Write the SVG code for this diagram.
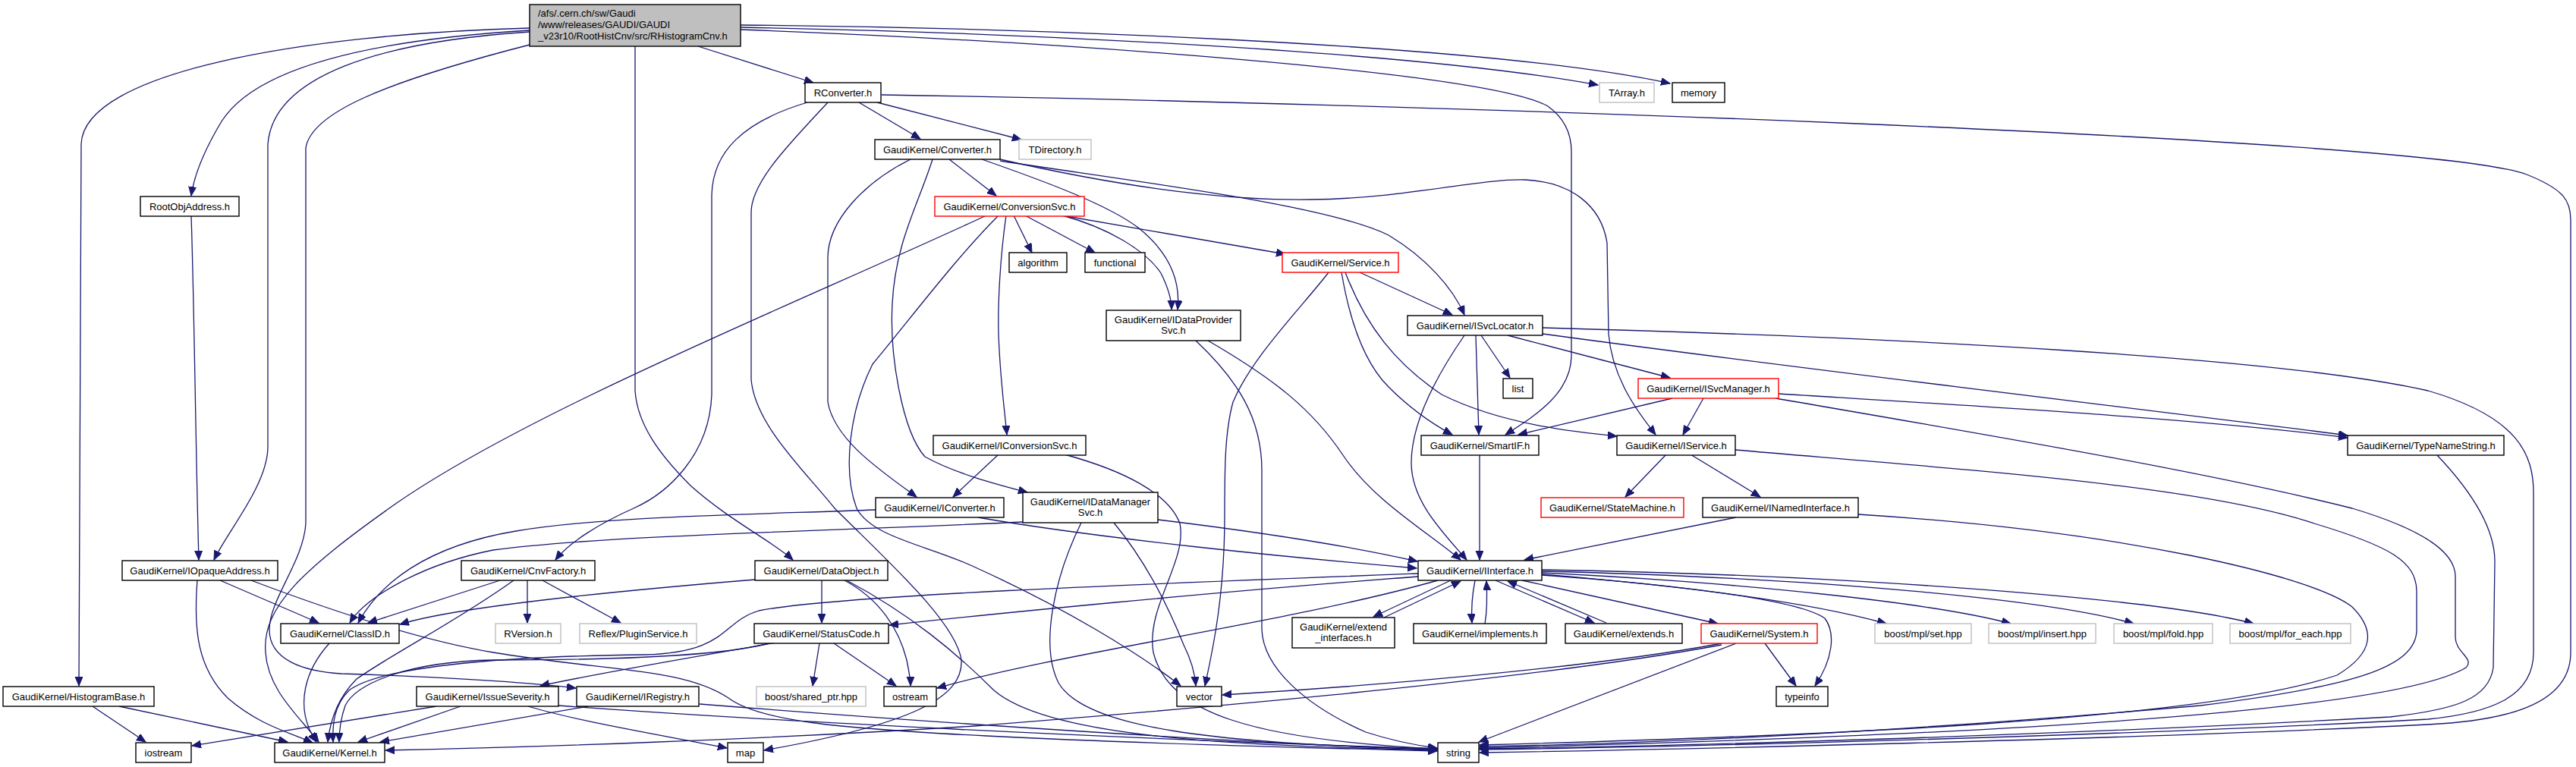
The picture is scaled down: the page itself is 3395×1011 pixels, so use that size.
<svg xmlns="http://www.w3.org/2000/svg" width="3395" height="1011" viewBox="0 0 3395 1011">
<style>
.node rect{fill:#fff;stroke:#000;stroke-width:1.4}
.red rect{stroke:#ff0000}
.gray rect{stroke:#bfbfbf}
.root rect{fill:#bfbfbf}
text{font-family:"Liberation Sans",Arial,sans-serif;font-size:13px;fill:#000;text-anchor:middle}
.root text{text-anchor:start}
#edges path{fill:none;stroke:#191970;stroke-width:1.3;marker-end:url(#arr)}
</style>
<defs>
<marker id="arr" markerWidth="14" markerHeight="11" refX="12" refY="5" orient="auto" markerUnits="userSpaceOnUse">
<path d="M0,0 L12,5 L0,10 z" fill="#191970" stroke="#191970" stroke-width="1"/>
</marker>
</defs>
<rect width="3395" height="1011" fill="#fff"/>
<g id="edges">
<path d="M920,61 L1072,109"/>
<path d="M976,36 C1300,42 1850,65 2106,112"/>
<path d="M976,33 C1300,36 1950,55 2201,110"/>
<path d="M976,39 C1400,55 1960,95 2040,140 C2068,160 2071,185 2071,200 L2071,470 C2070,520 2020,550 1984,573"/>
<path d="M698,37 C400,45 110,95 107,190 L104,904"/>
<path d="M698,40 C450,55 330,100 292,160 C268,200 256,230 252,258"/>
<path d="M698,42 C500,55 360,100 353,190 L353,590 C352,640 300,700 282,738"/>
<path d="M698,59 C500,110 410,150 403,195 L403,690 C400,740 355,790 355,830 C355,870 400,885 450,888 C600,893 700,900 759,907"/>
<path d="M837,61 L837,515 C840,560 870,600 910,640 C960,685 1020,715 1045,738"/>
<path d="M1132,135 L1213,183"/>
<path d="M1156,135 L1346,184"/>
<path d="M1162,125 C1800,135 3200,180 3330,230 C3380,250 3388,265 3388,290 L3388,860 C3388,930 3300,950 3200,955 C2800,975 2200,988 1950,992"/>
<path d="M1064,135 C980,160 938,200 938,260 L938,520 C935,600 880,650 835,670 C790,690 750,715 732,738"/>
<path d="M1091,135 C1040,190 990,240 990,280 L990,500 C995,560 1060,620 1100,670 C1170,740 1260,820 1267,870 C1270,920 1200,955 1007,989"/>
<path d="M1200,210 C1140,240 1091,290 1091,340 L1091,530 C1100,580 1160,620 1208,655"/>
<path d="M1229,210 C1210,270 1180,320 1176,400 C1172,470 1190,570 1219,602 C1260,625 1320,640 1354,649"/>
<path d="M1251,210 L1313,258"/>
<path d="M1294,210 C1380,240 1460,270 1500,300 C1550,340 1555,380 1552,408"/>
<path d="M1318,212 C1500,240 1750,270 1830,310 C1880,340 1915,380 1930,415"/>
<path d="M1318,210 C1450,240 1600,265 1727,263 C1850,262 1950,235 2010,237 C2070,240 2110,270 2118,320 L2120,440 C2125,500 2160,545 2182,573"/>
<path d="M1300,284 C1050,400 700,540 520,665 C400,750 345,800 350,860 C353,910 395,945 420,978"/>
<path d="M1316,284 C1260,340 1200,420 1150,480 C1120,540 1110,620 1129,670 C1150,710 1230,720 1290,750 C1400,800 1500,860 1556,904"/>
<path d="M1326,284 C1318,340 1315,400 1316,440 C1318,500 1325,550 1327,573"/>
<path d="M1336,284 L1360,333"/>
<path d="M1351,284 L1443,333"/>
<path d="M1400,284 L1694,335"/>
<path d="M1400,284 C1460,300 1510,330 1530,360 C1540,380 1544,395 1544,408"/>
<path d="M1792,359 L1914,415"/>
<path d="M1768,359 C1780,430 1800,480 1830,510 C1860,540 1890,560 1914,573"/>
<path d="M1773,359 C1800,430 1840,480 1900,520 C1980,560 2080,570 2131,575"/>
<path d="M1751,359 C1720,400 1650,470 1625,530 C1614,570 1614,620 1614,680 C1614,780 1600,850 1588,904"/>
<path d="M1576,449 C1630,500 1663,550 1663,620 L1663,830 C1665,880 1720,930 1800,965 C1840,978 1870,983 1894,986"/>
<path d="M1592,449 C1680,500 1730,540 1770,600 C1810,660 1880,700 1925,738"/>
<path d="M1952,442 L1990,498"/>
<path d="M1945,442 L1949,573"/>
<path d="M1987,442 L2201,498"/>
<path d="M1930,442 C1890,500 1860,560 1860,610 C1860,660 1900,700 1933,738"/>
<path d="M2033,440 C2400,490 2900,548 3094,574"/>
<path d="M2033,432 C2500,445 3000,470 3200,515 C3320,550 3339,600 3339,650 L3339,860 C3339,920 3280,940 3200,948 C2800,970 2200,985 1950,988"/>
<path d="M2204,525 L2001,573"/>
<path d="M2245,525 L2218,573"/>
<path d="M2344,519 C2600,535 2900,552 3094,577"/>
<path d="M2340,525 C2600,570 2900,620 3100,670 C3200,700 3236,730 3236,760 L3236,840 C3236,860 3262,868 3250,880 C3150,940 2600,970 1950,986"/>
<path d="M2196,599 L2142,655"/>
<path d="M2228,599 L2320,655"/>
<path d="M2287,593 C2600,620 2900,640 3050,690 C3150,720 3185,740 3185,780 L3185,830 C3185,880 3100,905 2900,930 C2500,965 2200,980 1950,984"/>
<path d="M2288,682 L2009,738"/>
<path d="M2449,678 C2800,700 3050,760 3100,800 C3130,830 3130,860 3080,890 C2900,950 2400,970 1950,982"/>
<path d="M1950,600 L1950,738"/>
<path d="M3212,600 C3250,640 3288,690 3288,740 L3286,880 C3280,920 3240,935 3150,945 C2700,970 2200,984 1950,987"/>
<path d="M1912,765 L1810,813"/>
<path d="M1824,814 L1925,766"/>
<path d="M1944,765 C1940,785 1939,805 1940,821"/>
<path d="M1957,822 C1960,805 1960,785 1959,766"/>
<path d="M1971,765 L2101,821"/>
<path d="M2117,821 L1987,766"/>
<path d="M2006,765 L2264,822"/>
<path d="M2032,758 C2200,770 2370,790 2405,815 C2420,835 2415,870 2392,904"/>
<path d="M2032,757 C2250,775 2400,798 2486,822"/>
<path d="M2032,755 C2300,768 2550,795 2650,822"/>
<path d="M2032,753 C2400,762 2700,790 2812,822"/>
<path d="M2032,751 C2450,758 2850,790 2970,822"/>
<path d="M1869,760 C1600,780 1300,810 1172,824"/>
<path d="M1895,765 C1700,820 1400,860 1235,907"/>
<path d="M1869,756 C1500,770 1100,785 1000,805 C950,820 960,860 850,863 C650,865 500,880 460,910 C440,930 438,955 439,978"/>
<path d="M1013,848 C950,865 800,870 650,870 C540,872 470,900 455,930 C448,950 447,965 447,978"/>
<path d="M1023,847 C950,860 800,885 712,904"/>
<path d="M1080,848 L1071,904"/>
<path d="M1099,848 L1181,904"/>
<path d="M1083,765 L1083,821"/>
<path d="M1113,765 C1160,790 1185,830 1195,870 C1198,885 1200,895 1200,904"/>
<path d="M1116,765 C1200,810 1260,860 1310,910 C1380,970 1600,982 1894,989"/>
<path d="M995,764 C800,780 600,800 527,823"/>
<path d="M1154,672 C1000,678 800,680 680,700 C560,720 500,770 472,821"/>
<path d="M1348,688 C1100,700 800,705 650,725 C550,745 480,790 461,821"/>
<path d="M1425,689 C1390,760 1370,850 1395,900 C1430,960 1600,980 1894,988"/>
<path d="M1468,689 C1510,740 1540,800 1560,850 C1570,870 1575,890 1576,904"/>
<path d="M1526,685 C1650,700 1780,720 1868,740"/>
<path d="M1289,682 C1450,710 1700,735 1867,749"/>
<path d="M1316,599 L1256,655"/>
<path d="M1403,599 C1480,620 1540,650 1555,690 C1565,740 1510,800 1520,860 C1540,940 1650,975 1894,987"/>
<path d="M260,765 C255,830 260,880 300,920 C340,955 380,965 412,979"/>
<path d="M290,765 L420,821"/>
<path d="M331,765 C450,810 560,845 650,860 C800,885 900,880 960,920 C1000,950 1100,960 1300,970 C1500,980 1700,985 1894,990"/>
<path d="M659,765 L485,821"/>
<path d="M677,765 C600,820 520,860 470,895 C445,920 435,950 432,978"/>
<path d="M695,765 L695,821"/>
<path d="M715,765 L818,821"/>
<path d="M434,848 C405,880 385,930 417,978"/>
<path d="M122,931 L192,978"/>
<path d="M157,931 L379,978"/>
<path d="M575,931 L253,983"/>
<path d="M607,931 L472,978"/>
<path d="M696,931 C760,950 850,965 958,986"/>
<path d="M736,930 C1000,950 1500,975 1894,987"/>
<path d="M775,931 L501,978"/>
<path d="M922,928 C1200,950 1600,978 1894,988"/>
<path d="M2326,848 L2367,904"/>
<path d="M2288,848 L1949,978"/>
<path d="M2269,848 C2100,880 1800,905 1611,916"/>
<path d="M2269,850 C2000,900 1500,940 1284,957 C1000,975 700,985 508,989"/>
<path d="M252,285 C256,400 258,600 262,738"/>
</g>
<g id="nodes">
<g id="n_root" class="node root"><rect x="698" y="6" width="278" height="55"/><text x="709" y="22">/afs/.cern.ch/sw/Gaudi</text><text x="709" y="37">/www/releases/GAUDI/GAUDI</text><text x="709" y="52">_v23r10/RootHistCnv/src/RHistogramCnv.h</text></g>
<g id="n_rootobj" class="node"><rect x="185" y="259" width="130" height="26"/><text x="250" y="276.5">RootObjAddress.h</text></g>
<g id="n_rconv" class="node"><rect x="1061" y="109" width="100" height="26"/><text x="1111" y="126.5">RConverter.h</text></g>
<g id="n_tarray" class="node gray"><rect x="2108" y="109" width="72" height="26"/><text x="2144" y="126.5">TArray.h</text></g>
<g id="n_memory" class="node"><rect x="2204" y="109" width="69" height="26"/><text x="2238.5" y="126.5">memory</text></g>
<g id="n_converter" class="node"><rect x="1153" y="184" width="165" height="26"/><text x="1235.5" y="201.5">GaudiKernel/Converter.h</text></g>
<g id="n_tdir" class="node gray"><rect x="1343" y="184" width="95" height="26"/><text x="1390.5" y="201.5">TDirectory.h</text></g>
<g id="n_convsvc" class="node red"><rect x="1232" y="259" width="197" height="26"/><text x="1330.5" y="276.5">GaudiKernel/ConversionSvc.h</text></g>
<g id="n_algorithm" class="node"><rect x="1330" y="333" width="76" height="26"/><text x="1368" y="350.5">algorithm</text></g>
<g id="n_functional" class="node"><rect x="1430" y="333" width="79" height="26"/><text x="1469.5" y="350.5">functional</text></g>
<g id="n_service" class="node red"><rect x="1690" y="333" width="153" height="26"/><text x="1766.5" y="350.5">GaudiKernel/Service.h</text></g>
<g id="n_idps" class="node"><rect x="1458" y="409" width="177" height="40"/><text x="1546.5" y="425.5">GaudiKernel/IDataProvider</text><text x="1546.5" y="440">Svc.h</text></g>
<g id="n_isvcloc" class="node"><rect x="1855" y="416" width="178" height="26"/><text x="1944" y="433.5">GaudiKernel/ISvcLocator.h</text></g>
<g id="n_list" class="node"><rect x="1981" y="499" width="39" height="26"/><text x="2000.5" y="516.5">list</text></g>
<g id="n_isvcmgr" class="node red"><rect x="2159" y="499" width="185" height="26"/><text x="2251.5" y="516.5">GaudiKernel/ISvcManager.h</text></g>
<g id="n_smartif" class="node"><rect x="1873" y="574" width="155" height="26"/><text x="1950.5" y="591.5">GaudiKernel/SmartIF.h</text></g>
<g id="n_iservice" class="node"><rect x="2131" y="574" width="156" height="26"/><text x="2209" y="591.5">GaudiKernel/IService.h</text></g>
<g id="n_typename" class="node"><rect x="3094" y="574" width="206" height="26"/><text x="3197" y="591.5">GaudiKernel/TypeNameString.h</text></g>
<g id="n_iconvsvc" class="node"><rect x="1230" y="574" width="201" height="26"/><text x="1330.5" y="591.5">GaudiKernel/IConversionSvc.h</text></g>
<g id="n_statemachine" class="node red"><rect x="2031" y="656" width="188" height="26"/><text x="2125" y="673.5">GaudiKernel/StateMachine.h</text></g>
<g id="n_inamed" class="node"><rect x="2244" y="656" width="205" height="26"/><text x="2346.5" y="673.5">GaudiKernel/INamedInterface.h</text></g>
<g id="n_iconverter" class="node"><rect x="1154" y="656" width="169" height="26"/><text x="1238.5" y="673.5">GaudiKernel/IConverter.h</text></g>
<g id="n_idms" class="node"><rect x="1348" y="649" width="178" height="40"/><text x="1437" y="665.5">GaudiKernel/IDataManager</text><text x="1437" y="680">Svc.h</text></g>
<g id="n_iopaque" class="node"><rect x="161" y="739" width="205" height="26"/><text x="263.5" y="756.5">GaudiKernel/IOpaqueAddress.h</text></g>
<g id="n_cnvfactory" class="node"><rect x="608" y="739" width="176" height="26"/><text x="696" y="756.5">GaudiKernel/CnvFactory.h</text></g>
<g id="n_dataobject" class="node"><rect x="995" y="739" width="175" height="26"/><text x="1082.5" y="756.5">GaudiKernel/DataObject.h</text></g>
<g id="n_iinterface" class="node"><rect x="1869" y="739" width="163" height="26"/><text x="1950.5" y="756.5">GaudiKernel/IInterface.h</text></g>
<g id="n_classid" class="node"><rect x="370" y="822" width="156" height="26"/><text x="448" y="839.5">GaudiKernel/ClassID.h</text></g>
<g id="n_rversion" class="node gray"><rect x="653" y="822" width="86" height="26"/><text x="696" y="839.5">RVersion.h</text></g>
<g id="n_plugin" class="node gray"><rect x="764" y="822" width="154" height="26"/><text x="841" y="839.5">Reflex/PluginService.h</text></g>
<g id="n_statuscode" class="node"><rect x="994" y="822" width="177" height="26"/><text x="1082.5" y="839.5">GaudiKernel/StatusCode.h</text></g>
<g id="n_extendif" class="node"><rect x="1703" y="814" width="135" height="40"/><text x="1770.5" y="830.5">GaudiKernel/extend</text><text x="1770.5" y="845">_interfaces.h</text></g>
<g id="n_implements" class="node"><rect x="1863" y="822" width="175" height="26"/><text x="1950.5" y="839.5">GaudiKernel/implements.h</text></g>
<g id="n_extends" class="node"><rect x="2063" y="822" width="154" height="26"/><text x="2140" y="839.5">GaudiKernel/extends.h</text></g>
<g id="n_system" class="node red"><rect x="2242" y="822" width="153" height="26"/><text x="2318.5" y="839.5">GaudiKernel/System.h</text></g>
<g id="n_mplset" class="node gray"><rect x="2471" y="822" width="127" height="26"/><text x="2534.5" y="839.5">boost/mpl/set.hpp</text></g>
<g id="n_mplinsert" class="node gray"><rect x="2621" y="822" width="141" height="26"/><text x="2691.5" y="839.5">boost/mpl/insert.hpp</text></g>
<g id="n_mplfold" class="node gray"><rect x="2786" y="822" width="130" height="26"/><text x="2851" y="839.5">boost/mpl/fold.hpp</text></g>
<g id="n_mplforeach" class="node gray"><rect x="2939" y="822" width="159" height="26"/><text x="3018.5" y="839.5">boost/mpl/for_each.hpp</text></g>
<g id="n_histbase" class="node"><rect x="4" y="905" width="199" height="26"/><text x="103.5" y="922.5">GaudiKernel/HistogramBase.h</text></g>
<g id="n_issue" class="node"><rect x="549" y="905" width="187" height="26"/><text x="642.5" y="922.5">GaudiKernel/IssueSeverity.h</text></g>
<g id="n_iregistry" class="node"><rect x="760" y="905" width="161" height="26"/><text x="840.5" y="922.5">GaudiKernel/IRegistry.h</text></g>
<g id="n_sharedptr" class="node gray"><rect x="997" y="905" width="144" height="26"/><text x="1069" y="922.5">boost/shared_ptr.hpp</text></g>
<g id="n_ostream" class="node"><rect x="1165" y="905" width="69" height="26"/><text x="1199.5" y="922.5">ostream</text></g>
<g id="n_vector" class="node"><rect x="1551" y="905" width="59" height="26"/><text x="1580.5" y="922.5">vector</text></g>
<g id="n_typeinfo" class="node"><rect x="2341" y="905" width="68" height="26"/><text x="2375" y="922.5">typeinfo</text></g>
<g id="n_iostream" class="node"><rect x="179" y="979" width="73" height="26"/><text x="215.5" y="996.5">iostream</text></g>
<g id="n_kernel" class="node"><rect x="362" y="979" width="145" height="26"/><text x="434.5" y="996.5">GaudiKernel/Kernel.h</text></g>
<g id="n_map" class="node"><rect x="959" y="979" width="47" height="26"/><text x="982.5" y="996.5">map</text></g>
<g id="n_string" class="node"><rect x="1895" y="979" width="54" height="26"/><text x="1922" y="996.5">string</text></g>
</g>
</svg>
